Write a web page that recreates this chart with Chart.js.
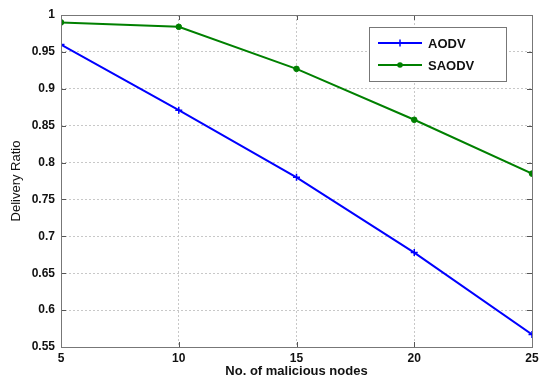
<!DOCTYPE html>
<html>
<head>
<meta charset="utf-8">
<script src="https://cdn.jsdelivr.net/npm/chart.js@4.4.1/dist/chart.umd.min.js"></script>
<style>
html,body{margin:0;padding:0;background:#fff;}
#wrap{width:540px;height:379px;position:relative;}
</style>
</head>
<body>
<div id="wrap"><canvas id="c" width="540" height="379"></canvas></div>
<script>
const maliciousNodes = [5, 10, 15, 20, 25];
const aodvRatio = [0.960, 0.871, 0.780, 0.678, 0.567];
const saodvRatio = [0.990, 0.984, 0.927, 0.858, 0.785];
const yTicks = [0.55, 0.6, 0.65, 0.7, 0.75, 0.8, 0.85, 0.9, 0.95, 1];
const xTicks = [5, 10, 15, 20, 25];
const seriesNames = ['AODV', 'SAODV'];

const FONT = '"Liberation Sans", Arial, sans-serif';

const frameAndTicks = {
  id: 'frameAndTicks',
  afterDatasetsDraw(chart) {
    const ctx = chart.ctx, a = chart.chartArea;
    const xs = chart.scales.x, ys = chart.scales.y;
    ctx.save();
    ctx.strokeStyle = '#555';
    ctx.lineWidth = 1;
    ctx.beginPath();
    xTicks.forEach(v => {
      const px = Math.round(xs.getPixelForValue(v)) + 0.5;
      ctx.moveTo(px, a.bottom); ctx.lineTo(px, a.bottom - 5);
      ctx.moveTo(px, a.top); ctx.lineTo(px, a.top + 5);
    });
    yTicks.forEach(v => {
      const py = Math.round(ys.getPixelForValue(v)) + 0.5;
      ctx.moveTo(a.left, py); ctx.lineTo(a.left + 5, py);
      ctx.moveTo(a.right, py); ctx.lineTo(a.right - 5, py);
    });
    ctx.stroke();
    ctx.strokeStyle = '#777';
    ctx.strokeRect(Math.round(a.left) + 0.5, Math.round(a.top) + 0.5,
                   Math.round(a.right - a.left), Math.round(a.bottom - a.top));
    ctx.restore();
  }
};

const boxLegend = {
  id: 'boxLegend',
  afterDraw(chart) {
    const ctx = chart.ctx;
    const bx = 369, by = 27, bw = 137, bh = 54;
    ctx.save();
    ctx.fillStyle = '#fff';
    ctx.fillRect(bx, by, bw, bh);
    ctx.strokeStyle = '#777';
    ctx.lineWidth = 1;
    ctx.strokeRect(bx + 0.5, by + 0.5, bw, bh);
    chart.data.datasets.forEach((ds, i) => {
      const y = by + 16 + i * 22;
      ctx.strokeStyle = ds.borderColor;
      ctx.lineWidth = 2;
      ctx.beginPath();
      ctx.moveTo(378, y); ctx.lineTo(422, y);
      ctx.stroke();
      ctx.lineWidth = 1.5;
      if (ds.pointStyle === 'cross') {
        ctx.beginPath();
        ctx.moveTo(400, y - 3.5); ctx.lineTo(400, y + 3.5);
        ctx.stroke();
      } else {
        ctx.fillStyle = ds.borderColor;
        ctx.beginPath();
        ctx.arc(400, y, 2.8, 0, Math.PI * 2);
        ctx.fill();
      }
      ctx.fillStyle = '#111';
      ctx.font = 'bold 13px ' + FONT;
      ctx.textBaseline = 'middle';
      ctx.textAlign = 'left';
      ctx.fillText(ds.label, 428, y + 1);
    });
    ctx.restore();
  }
};

new Chart(document.getElementById('c'), {
  type: 'line',
  data: {
    datasets: [
      {
        label: seriesNames[0],
        data: maliciousNodes.map((x, i) => ({x, y: aodvRatio[i]})),
        borderColor: '#0000ff',
        backgroundColor: '#0000ff',
        borderWidth: 2,
        pointStyle: 'cross',
        pointRadius: 3.5,
        pointBorderWidth: 1.5,
        tension: 0
      },
      {
        label: seriesNames[1],
        data: maliciousNodes.map((x, i) => ({x, y: saodvRatio[i]})),
        borderColor: '#008000',
        backgroundColor: '#008000',
        borderWidth: 2,
        pointStyle: 'circle',
        pointRadius: 2.8,
        pointBorderWidth: 1,
        tension: 0
      }
    ]
  },
  options: {
    responsive: false,
    animation: false,
    events: [],
    layout: { padding: { top: 15, right: 8, left: 0, bottom: 0 } },
    plugins: { legend: { display: false }, tooltip: { enabled: false } },
    scales: {
      x: {
        type: 'linear',
        min: 5, max: 25,
        afterBuildTicks: s => { s.ticks = xTicks.map(v => ({value: v})); },
        afterFit: s => { s.height = 32; s.paddingLeft = 0; s.paddingRight = 0; },
        ticks: { color: '#111', padding: 4, maxRotation: 0, font: { family: FONT, size: 12, weight: 'bold' } },
        grid: { color: '#c8c8c8', drawTicks: false, tickLength: 0 },
        border: { display: false, dash: [2, 2] },
        title: { display: true, text: 'No. of malicious nodes', color: '#111',
                 font: { family: FONT, size: 13, weight: 'bold' }, padding: { top: 0, bottom: 0 } }
      },
      y: {
        type: 'linear',
        min: 0.55, max: 1,
        afterBuildTicks: s => { s.ticks = yTicks.map(v => ({value: v})); },
        afterFit: s => { s.width = 61; s.paddingTop = 0; s.paddingBottom = 0; },
        ticks: { color: '#111', padding: 6, font: { family: FONT, size: 12, weight: 'bold' },
                 callback: v => String(Math.round(v * 100) / 100) },
        grid: { color: '#c8c8c8', drawTicks: false, tickLength: 0 },
        border: { display: false, dash: [2, 2] },
        title: { display: true, text: 'Delivery Ratio', color: '#111',
                 font: { family: FONT, size: 13 }, padding: { top: 9, bottom: 0 } }
      }
    }
  },
  plugins: [frameAndTicks, boxLegend]
});
</script>
</body>
</html>
